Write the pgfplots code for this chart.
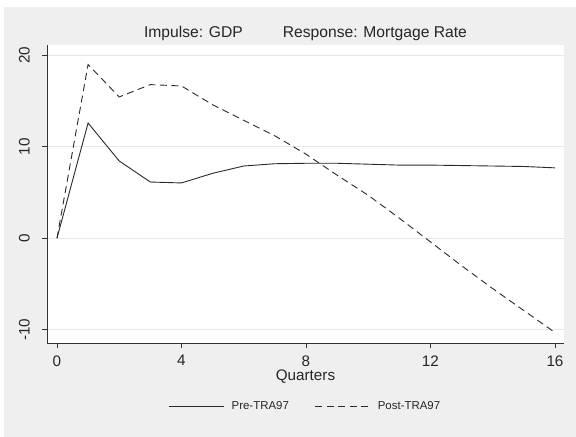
\documentclass[border=0pt]{standalone}
\usepackage{pgfplots}
\pgfplotsset{compat=1.18}
\usetikzlibrary{backgrounds}
\usepackage{fontspec}
\setmainfont{Liberation Sans}
\definecolor{bgray}{HTML}{EFEFEF}
\definecolor{gridc}{HTML}{E6E6E6}
\definecolor{linec}{HTML}{2A2A2A}
\begin{document}
\begin{tikzpicture}[x=1bp,y=1bp]
\begin{axis}[
  name=ax,
  scale only axis,
  width=517bp, height=298.3bp,
  xmin=-0.32, xmax=16.29,
  ymin=-11.48, ymax=21.13,
  axis background/.style={fill=white},
  axis x line*=bottom, axis y line*=left,
  axis line style={black!80, line width=0.8bp, -},
  xtick={0,4,8,12,16}, ytick={-10,0,10,20},
  tick align=outside, major tick length=5bp,
  tick style={black!80, line width=0.8bp},
  ymajorgrids, grid style={gridc, line width=1bp},
  /pgf/number format/assume math mode=true,
  tick label style={font=\fontsize{15.3}{17}\selectfont, text=black!85},
  xticklabel style={anchor=north, inner sep=0pt, yshift=-7bp},
  yticklabel style={xshift=-12bp, rotate=90, anchor=south, inner sep=0pt},
  xlabel={Quarters},
  xlabel style={at={(rel axis cs:0.5,0)}, anchor=north, inner sep=0pt, yshift=-26bp, font=\fontsize{15.3}{17}\selectfont, text=black!85},
  legend columns=2,
  legend style={draw=none, fill=none, at={(rel axis cs:0.5,0)}, anchor=center, yshift=-62.7bp, xshift=0bp,
    font=\fontsize{11.5}{13}\selectfont, text=black!85,
    /tikz/every odd column/.append style={column sep=5bp},
    /tikz/every even column/.append style={column sep=24bp}},
  legend image code/.code={\draw[#1] (0bp,0bp) -- (55bp,0bp);},
  clip=false,
]
\addplot[linec, line width=0.9bp, solid] coordinates {
(0,0) (1,12.6) (2,8.45) (3,6.15) (4,6.05) (5,7.1) (6,7.9) (7,8.15) (8,8.2)
(9,8.2) (10,8.1) (11,8.0) (12,8.0) (13,7.95) (14,7.9) (15,7.85) (16,7.7)};
\addlegendentry{Pre-TRA97}
\addplot[linec, line width=0.9bp, dash pattern=on 7bp off 4.5bp] coordinates {
(0,0) (1,19.0) (2,15.45) (3,16.8) (4,16.65) (5,14.6) (6,12.9) (7,11.2) (8,9.2)
(9,6.9) (10,4.7) (11,2.2) (12,-0.4) (13,-3.0) (14,-5.5) (15,-7.9) (16,-10.3)};
\addlegendentry{Post-TRA97}
\end{axis}
\begin{scope}[on background layer]
\fill[bgray] ([xshift=-43bp,yshift=-93.7bp]ax.south west) rectangle ([xshift=529bp,yshift=336.3bp]ax.south west);
\end{scope}
\path[use as bounding box] ([xshift=-47bp,yshift=-93.7bp]ax.south west) rectangle ([xshift=529bp,yshift=343.3bp]ax.south west);
\node[font=\fontsize{15.7}{18}\selectfont, text=black!85, anchor=center] at ([xshift=258.5bp,yshift=310bp]ax.south west) {Impulse: GDP\hspace{40bp}Response: Mortgage Rate};
\end{tikzpicture}
\end{document}
